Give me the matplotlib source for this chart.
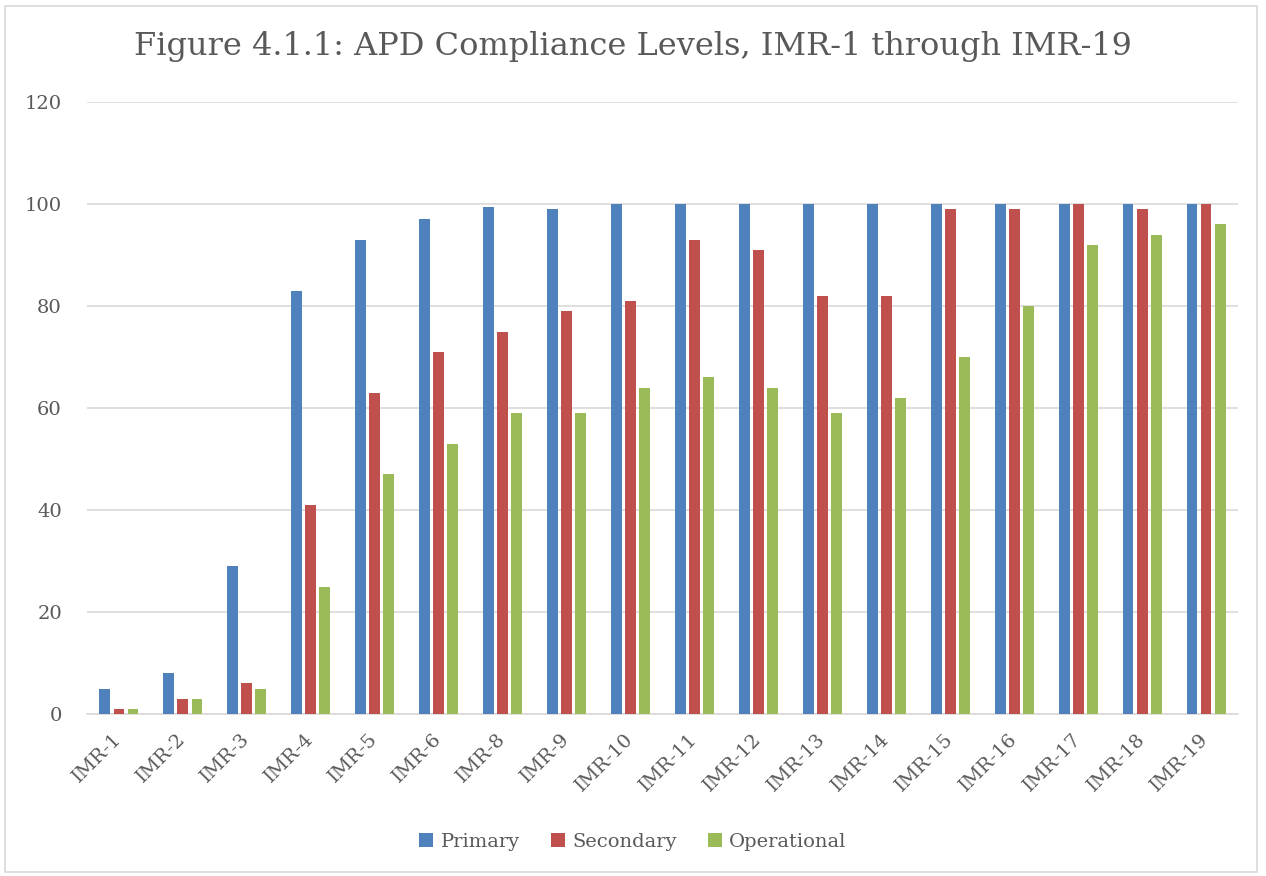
import numpy as np
import matplotlib.pyplot as plt
from matplotlib.patches import Rectangle

categories = ["IMR-1", "IMR-2", "IMR-3", "IMR-4", "IMR-5", "IMR-6", "IMR-8", "IMR-9",
              "IMR-10", "IMR-11", "IMR-12", "IMR-13", "IMR-14", "IMR-15", "IMR-16",
              "IMR-17", "IMR-18", "IMR-19"]
primary = [5, 8, 29, 83, 93, 97, 99.5, 99, 100, 100, 100, 100, 100, 100, 100, 100, 100, 100]
secondary = [1, 3, 6, 41, 63, 71, 75, 79, 81, 93, 91, 82, 82, 99, 99, 100, 99, 100]
operational = [1, 3, 5, 25, 47, 53, 59, 59, 64, 66, 64, 59, 62, 70, 80, 92, 94, 96]

plt.rcParams["font.family"] = ["DejaVu Serif"]
text_color = "#595959"

fig = plt.figure(figsize=(12.66, 8.76), dpi=100)
ax = fig.add_axes([87 / 1266, 1 - 714 / 876, (1238 - 87) / 1266, (714 - 102) / 876])

x = np.arange(len(categories))
w = 0.17
off = 0.22
ax.bar(x - off, primary, w, color="#4F81BD", label="Primary", zorder=3)
ax.bar(x, secondary, w, color="#C0504D", label="Secondary", zorder=3)
ax.bar(x + off, operational, w, color="#9BBB59", label="Operational", zorder=3)

ax.set_xlim(-0.5, len(categories) - 0.5)
ax.set_ylim(0, 120)
ax.set_yticks(range(0, 121, 20))
ax.grid(axis="y", color="#D9D9D9", linewidth=1.2, zorder=0)
for s in ["top", "right", "left"]:
    ax.spines[s].set_visible(False)
ax.spines["bottom"].set_color("#D9D9D9")
ax.spines["bottom"].set_linewidth(1.2)
ax.tick_params(axis="both", length=0, colors=text_color, labelsize=14)
ax.tick_params(axis="y", pad=18)
ax.set_xticks(x)
ax.set_xticklabels(categories, rotation=45, ha="right", va="center", rotation_mode="anchor")
ax.tick_params(axis="x", pad=16)

fig.text(0.5, 1 - 47 / 876, "Figure 4.1.1: APD Compliance Levels, IMR-1 through IMR-19",
         ha="center", va="center", fontsize=23, color=text_color)

fig.legend(loc="center", bbox_to_anchor=(0.5, 1 - 842 / 876), ncol=3, frameon=False,
           fontsize=14, labelcolor=text_color, handlelength=0.7, handleheight=0.7,
           columnspacing=1.6, handletextpad=0.4)

fig.patches.append(Rectangle((5 / 1266, 1 - 872 / 876), 1252 / 1266, 866 / 876,
                             transform=fig.transFigure, fill=False,
                             edgecolor="#D9D9D9", linewidth=1.2))

fig.savefig("out.png", dpi=100)
